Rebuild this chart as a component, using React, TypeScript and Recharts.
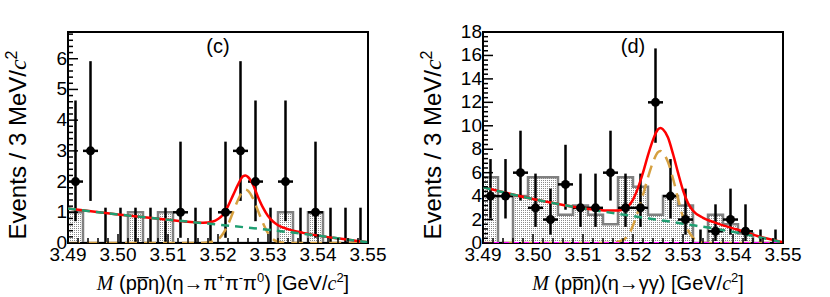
import React from 'react';
import { ComposedChart, XAxis, YAxis, Line, Area, Scatter, ErrorBar, ReferenceArea } from 'recharts';

const FONT = '"Liberation Sans", Arial, Helvetica, sans-serif';
const SERIF = '"Liberation Serif", "Times New Roman", serif';

// ---- binning (3 MeV bins) ----
const binEdges = [3.490, 3.493, 3.496, 3.499, 3.502, 3.505, 3.508, 3.511, 3.514, 3.517, 3.520,
  3.523, 3.526, 3.529, 3.532, 3.535, 3.538, 3.541, 3.544, 3.547, 3.550];
const binCenters = [3.4915, 3.4945, 3.4975, 3.5005, 3.5035, 3.5065, 3.5095, 3.5125, 3.5155, 3.5185,
  3.5215, 3.5245, 3.5275, 3.5305, 3.5335, 3.5365, 3.5395, 3.5425, 3.5455, 3.5485];

// ---- panel (c): eta -> pi+ pi- pi0 ----
const countsC = [2, 3, 0, 0, 0, 0, 0, 1, 0, 0, 1, 3, 2, 0, 2, 0, 1, 0, 0, 0];
const lowC = [0.71, 1.37, 0, 0, 0, 0, 0, 0.17, 0, 0, 0.17, 1.37, 0.71, 0, 0.71, 0, 0.17, 0, 0, 0];
const highC = [4.64, 5.92, 1.15, 1.15, 1.15, 1.15, 1.15, 3.3, 1.15, 1.15, 3.3, 5.92, 4.64, 1.15, 4.64, 1.15, 3.3, 1.15, 1.15, 1.15];
const sidebandC = [1, 0, 0, 0, 1, 0, 1, 0, 0, 0, 0, 0, 0, 0, 1, 0, 1, 0, 0, 0];
const bgMassC = [3.49, 3.50, 3.51, 3.52, 3.53, 3.54, 3.545, 3.55];
const bgC = [1.12, 0.93, 0.76, 0.60, 0.43, 0.24, 0.13, 0.02];
const totMassC = [3.49, 3.50, 3.51, 3.514, 3.517, 3.519, 3.520, 3.521, 3.522, 3.523, 3.524, 3.525, 3.5255,
  3.526, 3.527, 3.528, 3.529, 3.530, 3.531, 3.532, 3.534, 3.537, 3.54, 3.545, 3.55];
const totC = [1.12, 0.93, 0.76, 0.69, 0.66, 0.70, 0.78, 0.92, 1.2, 1.55, 1.9, 2.17, 2.2,
  2.15, 1.9, 1.5, 1.15, 0.88, 0.70, 0.58, 0.45, 0.33, 0.24, 0.13, 0.02];
const sigMassC = [3.49, 3.516, 3.518, 3.520, 3.521, 3.522, 3.523, 3.524, 3.525, 3.5255, 3.526, 3.527,
  3.528, 3.529, 3.530, 3.531, 3.532, 3.534, 3.55];
const sigC = [0, 0, 0.02, 0.12, 0.3, 0.6, 1.0, 1.4, 1.7, 1.74, 1.7, 1.45, 1.05, 0.65, 0.32, 0.12, 0.04, 0, 0];

// ---- panel (d): eta -> gamma gamma ----
const countsD = [4, 4, 6, 3, 2, 5, 3, 3, 6, 3, 3, 12, 4, 2, 0, 1, 2, 1, 0, 0];
const lowD = [2.09, 2.09, 3.62, 1.37, 0.71, 2.84, 1.37, 1.37, 3.62, 1.37, 1.37, 8.55, 2.09, 0.71, 0, 0.17, 0.71, 0.17, 0, 0];
const highD = [7.16, 7.16, 9.58, 5.92, 4.64, 8.38, 5.92, 5.92, 9.58, 5.92, 5.92, 16.6, 7.16, 4.64, 1.15, 3.3, 4.64, 3.3, 1.15, 1.15];
const sidebandD = [5.6, 0, 4.0, 5.6, 5.6, 2.4, 3.2, 2.4, 1.6, 5.6, 4.8, 2.4, 4.0, 3.2, 0, 2.4, 1.6, 0.8, 0, 0];
const bgMassD = [3.49, 3.50, 3.51, 3.52, 3.53, 3.54, 3.545, 3.55];
const bgD = [4.75, 3.75, 2.95, 2.3, 1.65, 0.95, 0.52, 0.05];
const totMassD = [3.49, 3.50, 3.51, 3.515, 3.517, 3.518, 3.519, 3.520, 3.521, 3.522, 3.523, 3.524, 3.525,
  3.5255, 3.526, 3.527, 3.528, 3.529, 3.530, 3.531, 3.532, 3.534, 3.536, 3.538, 3.54, 3.542, 3.545, 3.55];
const totD = [4.75, 3.75, 2.97, 2.78, 2.78, 2.85, 3.1, 3.7, 4.7, 6.0, 7.5, 8.8, 9.7,
  9.82, 9.7, 9.0, 7.6, 6.0, 4.5, 3.4, 2.75, 2.15, 1.8, 1.5, 1.25, 1.0, 0.58, 0.06];
const sigMassD = [3.49, 3.514, 3.517, 3.519, 3.520, 3.521, 3.522, 3.523, 3.524, 3.525, 3.5255, 3.526,
  3.527, 3.528, 3.529, 3.530, 3.531, 3.532, 3.533, 3.535, 3.55];
const sigD = [0, 0, 0.1, 0.6, 1.5, 2.7, 4.1, 5.6, 6.9, 7.75, 7.85, 7.7, 6.9, 5.5, 3.8, 2.2, 1.1, 0.45, 0.15, 0, 0];
const peakBgMassD = [3.49, 3.55];
const peakBgD = [0, 0];

// ---- axis ticks ----
const xTicks = Array.from({ length: 31 }, (_, i) => +(3.49 + i * 0.002).toFixed(3));
const yTicksC = Array.from({ length: 35 }, (_, i) => +(i * 0.2).toFixed(1));
const yTicksD = Array.from({ length: 46 }, (_, i) => +(i * 0.4).toFixed(1));

const toLine = (xs: number[], ys: number[]) => xs.map((x, i) => ({ x, y: ys[i] }));
const toHist = (vals: number[]) =>
  binEdges.map((x, i) => ({ x, y: vals[Math.min(i, vals.length - 1)] }));
const toPoints = (counts: number[], lo: number[], hi: number[]) =>
  binCenters.map((x, i) => {
    const half = (binEdges[i + 1] - binEdges[i]) / 2;
    return {
      x,
      y: counts[i],
      yErr: [counts[i] - lo[i], hi[i] - counts[i]],
      xErr: counts[i] > 0 ? [half, half] : [0, 0],
    };
  });

const LABEL_SIZE = 19;

const XTick = (props: any) => {
  const { x, y, payload } = props;
  const v = payload.value;
  const major = Math.abs(v * 100 - Math.round(v * 100)) < 1e-6;
  return (
    <g>
      <line x1={x} x2={x} y1={y} y2={y - (major ? 9 : 5)} stroke="#000" strokeWidth={1.5} />
      {major && (
        <text x={x} y={y + 18} textAnchor="middle" fontSize={LABEL_SIZE} fontFamily={FONT} fill="#000">
          {v.toFixed(2)}
        </text>
      )}
    </g>
  );
};

const makeYTick = (step: number) => (props: any) => {
  const { x, y, payload } = props;
  const v = payload.value;
  const major = Math.abs(v / step - Math.round(v / step)) < 1e-6;
  return (
    <g>
      <line x1={x} x2={x + (major ? 10 : 5)} y1={y} y2={y} stroke="#000" strokeWidth={1.5} />
      {major && (
        <text x={x - 1} y={y + 6} textAnchor="end" fontSize={LABEL_SIZE} fontFamily={FONT} fill="#000">
          {String(Math.round(v))}
        </text>
      )}
    </g>
  );
};

const YTitle = (props: any) => {
  const vb = props.viewBox || { x: 0, y: 32, width: 68, height: 211 };
  const cx = vb.x + 26;
  const cy = 145;
  return (
    <text x={cx} y={cy} transform={`rotate(-90, ${cx}, ${cy})`} textAnchor="middle" fontSize={24}
      fontFamily={FONT} fill="#000">
      {'Events / 3 MeV/'}
      <tspan fontFamily={SERIF} fontStyle="italic">c</tspan>
      <tspan dy={-9} fontSize={16}>2</tspan>
    </text>
  );
};

const makeXTitle = (decay: 'c' | 'd') => (props: any) => {
  const vb = props.viewBox || { x: 68, y: 243, width: 300, height: 54 };
  const cx = vb.x + vb.width / 2 + 5;
  const cy = 290;
  const sup = (s: string) => <tspan dy={-8} fontSize={13}>{s}</tspan>;
  return (
    <text x={cx} y={cy} textAnchor="middle" fontSize={20} fontFamily={FONT} fill="#000">
      <tspan fontFamily={SERIF} fontStyle="italic">M</tspan>
      <tspan>{' (pp\u0305η)(η→'}</tspan>
      {decay === 'c' ? (
        <>
          <tspan>π</tspan>
          {sup('+')}
          <tspan dy={8}>π</tspan>
          {sup('-')}
          <tspan dy={8}>π</tspan>
          {sup('0')}
          <tspan dy={8}>{') [GeV/'}</tspan>
        </>
      ) : (
        <tspan>{'γγ) [GeV/'}</tspan>
      )}
      <tspan fontFamily={SERIF} fontStyle="italic">c</tspan>
      {sup('2')}
      <tspan dy={8}>]</tspan>
    </text>
  );
};

const PointShape = (props: any) => {
  const { cx, cy, payload } = props;
  if (!payload || payload.y <= 0) return <g />;
  return <circle cx={cx} cy={cy} r={4.5} fill="#000" />;
};

type PanelProps = {
  counts: number[]; lo: number[]; hi: number[]; sideband: number[];
  bgX: number[]; bgY: number[]; totX: number[]; totY: number[]; sigX: number[]; sigY: number[];
  yTop: number; yTicks: number[]; yStep: number; tag: string; decay: 'c' | 'd';
  peakX?: number[]; peakY?: number[];
};

const Panel = (p: PanelProps) => {
  const points = toPoints(p.counts, p.lo, p.hi);
  return (
    <ComposedChart width={415} height={297} margin={{ top: 32, right: 47, bottom: 0, left: 0 }}>
      <XAxis dataKey="x" type="number" scale="linear" domain={[3.49, 3.55]} allowDataOverflow
        ticks={xTicks} interval={0} tickSize={0} tickMargin={0} axisLine={false} tickLine={false}
        tick={(t: any) => <XTick {...t} />} height={54} label={makeXTitle(p.decay)} />
      <YAxis dataKey="y" type="number" domain={[0, p.yTop]} allowDataOverflow ticks={p.yTicks}
        interval={0} tickSize={0} tickMargin={0} axisLine={false} tickLine={false}
        tick={makeYTick(p.yStep)} width={68} label={(l: any) => <YTitle {...l} />} />
      <Area data={toHist(p.sideband)} dataKey="y" type="stepAfter" stroke="#808080" strokeWidth={2.5}
        fill="url(#dots)" fillOpacity={1} isAnimationActive={false} dot={false} activeDot={false} />
      <Scatter data={points} dataKey="y" shape={PointShape} isAnimationActive={false}>
        <ErrorBar dataKey="yErr" direction="y" width={0} stroke="#000" strokeWidth={2.5} />
        <ErrorBar dataKey="xErr" direction="x" width={0} stroke="#000" strokeWidth={2.5} />
      </Scatter>
      <Line data={toLine(p.sigX, p.sigY)} dataKey="y" type="monotone" stroke="#d6a040" strokeWidth={2.5}
        strokeDasharray="12 7" dot={false} activeDot={false} isAnimationActive={false} />
      {p.peakX && p.peakY && (
        <Line data={toLine(p.peakX, p.peakY)} dataKey="y" type="linear" stroke="#ff00ff" strokeWidth={2}
          strokeDasharray="6 4" dot={false} activeDot={false} isAnimationActive={false} />
      )}
      <Line data={toLine(p.totX, p.totY)} dataKey="y" type="monotone" stroke="#ff0000" strokeWidth={2.5}
        dot={false} activeDot={false} isAnimationActive={false} />
      <Line data={toLine(p.bgX, p.bgY)} dataKey="y" type="monotone" stroke="#1f9f72" strokeWidth={2.5}
        strokeDasharray="8 6" dot={false} activeDot={false} isAnimationActive={false} />
      <ReferenceArea x1={3.49} x2={3.55} y1={0} y2={p.yTop} fill="none" stroke="#000" strokeWidth={2}
        ifOverflow="visible"
        label={{ value: p.tag, position: 'insideTop', offset: 7, fontSize: 20, fill: '#000', fontFamily: FONT }} />
    </ComposedChart>
  );
};

export default function App() {
  return (
    <div style={{ position: 'absolute', left: 0, top: 0, width: 830, height: 297, background: '#fff', fontFamily: FONT }}>
      <svg width={0} height={0} style={{ position: 'absolute' }}>
        <defs>
          <pattern id="dots" width={2} height={2} patternUnits="userSpaceOnUse">
            <rect x={0} y={0} width={2} height={2} fill="#fff" />
            <rect x={0} y={0} width={1} height={1} fill="#8a8a8a" />
          </pattern>
        </defs>
      </svg>
      <div style={{ position: 'absolute', left: 0, top: 0 }}>
        <Panel counts={countsC} lo={lowC} hi={highC} sideband={sidebandC}
          bgX={bgMassC} bgY={bgC} totX={totMassC} totY={totC} sigX={sigMassC} sigY={sigC}
          yTop={6.87} yTicks={yTicksC} yStep={1} tag="(c)" decay="c" />
      </div>
      <div style={{ position: 'absolute', left: 415, top: 0 }}>
        <Panel counts={countsD} lo={lowD} hi={highD} sideband={sidebandD}
          bgX={bgMassD} bgY={bgD} totX={totMassD} totY={totD} sigX={sigMassD} sigY={sigD}
          yTop={18} yTicks={yTicksD} yStep={2} tag="(d)" decay="d"
          peakX={peakBgMassD} peakY={peakBgD} />
      </div>
    </div>
  );
}
